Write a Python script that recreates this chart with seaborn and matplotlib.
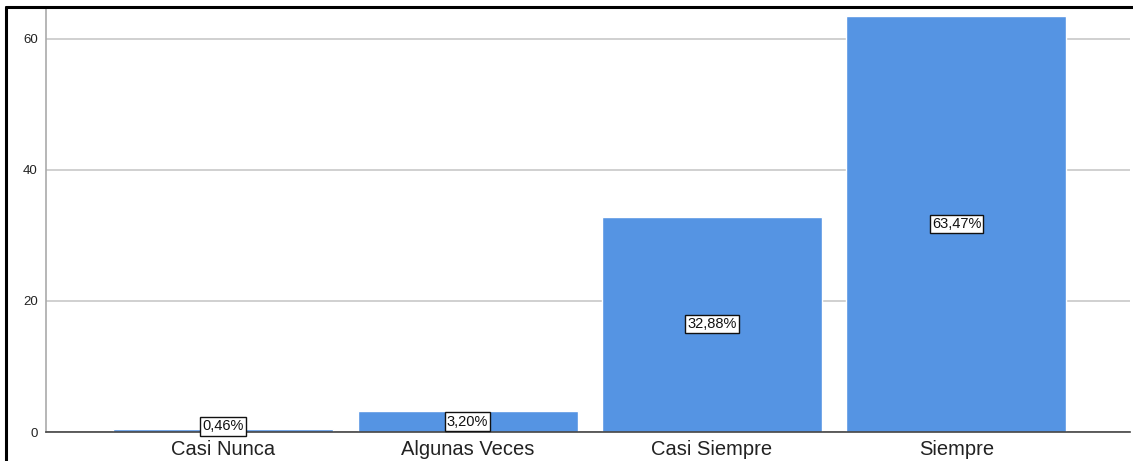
import matplotlib
matplotlib.use("Agg")
import matplotlib.pyplot as plt
from matplotlib.lines import Line2D
import seaborn as sns
import pandas as pd

# Response categories and their share of answers (%)
categories = ["Casi Nunca", "Algunas Veces", "Casi Siempre", "Siempre"]
percentages = [0.46, 3.20, 32.88, 63.47]
y_ticks = [0, 20, 40, 60]

sns.set_style("white")
plt.rcParams["font.family"] = ["Liberation Sans", "DejaVu Sans"]

W, H = 1133, 461
fig = plt.figure(figsize=(W / 100, H / 100), dpi=100)
ax = fig.add_axes([46 / W, 29 / H, (1130 - 46) / W, (432 - 8) / H])

df = pd.DataFrame({"categoria": categories, "porcentaje": percentages})
sns.barplot(data=df, x="categoria", y="porcentaje", color="#5594e3",
            saturation=1, width=0.9, ax=ax, zorder=3)

ax.set_xlim(-0.725, 3.71)
ax.set_ylim(0, 64.7)
ax.set_yticks(y_ticks)
ax.set_yticklabels([str(t) for t in y_ticks], fontsize=9.5, color="#222222")
ax.tick_params(axis="y", length=0, pad=6)
ax.tick_params(axis="x", length=0, pad=6, labelsize=14.5, labelcolor="#222222")
ax.set_xlabel("")
ax.set_ylabel("")
ax.grid(axis="y", color="#c8c8c8", linewidth=1.2, zorder=0)

for side in ["top", "right"]:
    ax.spines[side].set_visible(False)
ax.spines["left"].set_color("#aaaaaa")
ax.spines["left"].set_linewidth(1.2)
ax.spines["bottom"].set_color("#444444")
ax.spines["bottom"].set_linewidth(1.2)
ax.spines["bottom"].set_zorder(4)

# Value labels inside each bar, boxed
for patch, value in zip(ax.patches, percentages):
    xc = patch.get_x() + patch.get_width() / 2
    yc = max(value / 2, 0.85)
    label = f"{value:.2f}%".replace(".", ",")
    ax.text(xc, yc, label, ha="center", va="center", fontsize=10.5,
            color="#111111", zorder=5,
            bbox=dict(boxstyle="square,pad=0.15", facecolor="white",
                      edgecolor="#111111", linewidth=1.0))

# Frame lines along the left and top edges
fig.add_artist(Line2D([6 / W, 6 / W], [0, (H - 7) / H], color="black",
                      linewidth=2.2, transform=fig.transFigure))
fig.add_artist(Line2D([6 / W, 1], [(H - 7) / H, (H - 7) / H], color="black",
                      linewidth=2.2, transform=fig.transFigure))

fig.savefig("out.png", dpi=100, facecolor="white")
